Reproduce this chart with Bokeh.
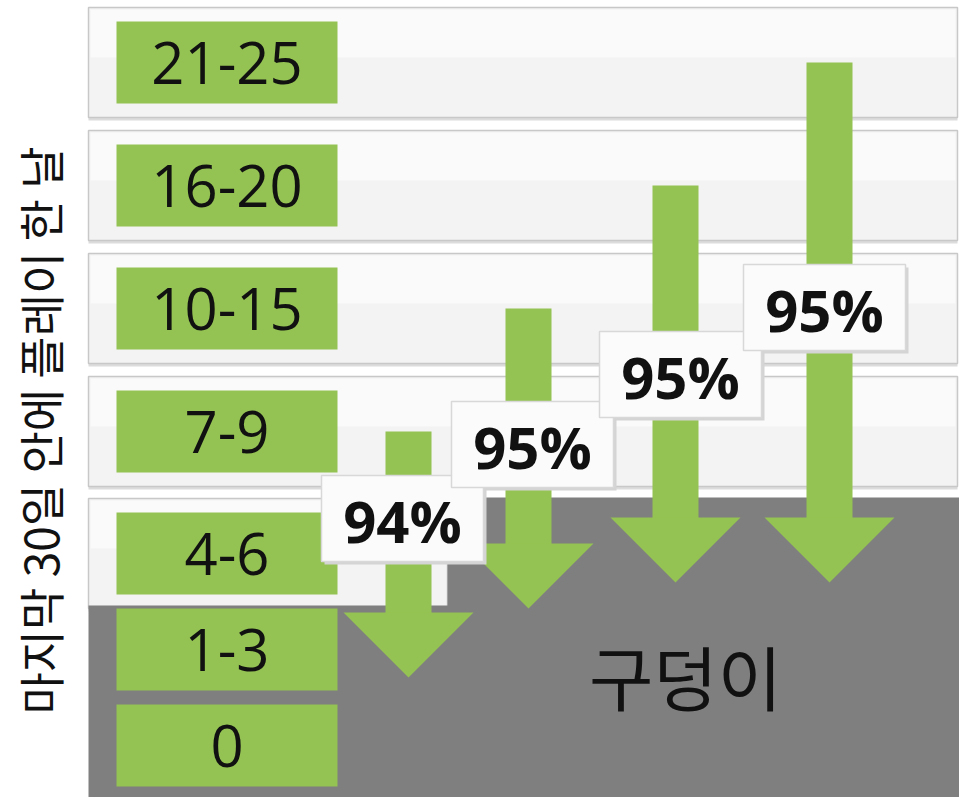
import math
from bokeh.plotting import figure
from bokeh.models import Range1d, Label, ColumnDataSource
from bokeh.core.properties import value
from bokeh.embed import file_html
from bokeh.resources import INLINE

# ---------------- data ----------------
categories = ["21-25", "16-20", "10-15", "7-9", "4-6", "1-3", "0"]
arrow_source_rows = ["7-9", "10-15", "16-20", "21-25"]
arrow_pcts = [94, 95, 95, 95]
pit_label = "구덩이"
axis_title = "마지막 30일 안에 플레이 한 날"

# ---------------- layout (pixel space) ----------------
W, H = 959, 797
row_centers = [62, 185, 308, 431, 553, 649, 745]   # y centre of each category row
n_bands = 5                                          # rows drawn as white bands
band_half = 55
band_left, band_right, band5_right = 88, 957, 447
box_left, box_right, box_half = 116, 337, 41
pit_top_right, pit_top_left = 497, 605

arrow_x = [408, 528, 675, 829]
arrow_tip = [677, 608, 582, 582]
shaft_w, head_w, head_h = 46, 130, 65
lbl_center = [(402, 518), (532, 444), (680, 374), (824, 307)]
lbl_w, lbl_h = 162, 86

GREEN = "#94c353"
PIT = "#7f7f7f"

p = figure(width=W, height=H, x_range=Range1d(0, W), y_range=Range1d(H, 0),
           output_backend="svg", toolbar_location=None, min_border=0)
p.axis.visible = False
p.grid.visible = False
p.outline_line_color = None
p.background_fill_color = "white"
p.border_fill_color = "white"

# white bands for upper rows
bt, bb, br = [], [], []
for i in range(n_bands):
    c = row_centers[i]
    bt.append(c - band_half)
    bb.append(c + band_half)
    br.append(band5_right if i == n_bands - 1 else band_right)
bl = [band_left] * n_bands
p.quad(left=bl, right=br, top=[t + 3 for t in bt], bottom=[b + 3 for b in bb],
       fill_color="#dcdcdc", line_color=None)
p.quad(left=bl, right=br, top=bt, bottom=bb,
       fill_color="#f3f3f3", line_color="#c8c8c8", line_width=1.5)
p.quad(left=[l + 2 for l in bl], right=[r - 2 for r in br], top=[t + 2 for t in bt],
       bottom=[t + 50 for t in bt], fill_color="#fafafa", line_color=None)

# the pit
p.patch(x=[band_left, band5_right, band5_right, W, W, band_left],
        y=[pit_top_left, pit_top_left, pit_top_right, pit_top_right, H, H],
        fill_color=PIT, line_color=None)

# green category boxes
src = ColumnDataSource(dict(
    left=[box_left] * len(categories), right=[box_right] * len(categories),
    top=[c - box_half for c in row_centers], bottom=[c + box_half for c in row_centers],
    x=[(box_left + box_right) / 2] * len(categories), y=row_centers, label=categories))
p.quad(left="left", right="right", top="top", bottom="bottom", source=src,
       fill_color=GREEN, line_color=None)
p.text(x="x", y="y", text="label", source=src, text_align="center",
       text_baseline="middle", text_font=value("Open Sans"), text_font_size="58px",
       text_color="#111111")

# arrows
for k, row in enumerate(arrow_source_rows):
    top = row_centers[categories.index(row)]
    cx = arrow_x[k]
    tip = arrow_tip[k]
    base = tip - head_h
    p.quad(left=cx - shaft_w / 2, right=cx + shaft_w / 2, top=top, bottom=base + 1,
           fill_color=GREEN, line_color=None)
    p.patch(x=[cx - head_w / 2, cx + head_w / 2, cx], y=[base, base, tip],
            fill_color=GREEN, line_color=None)

# percentage labels
lx = [c[0] for c in lbl_center]
ly = [c[1] for c in lbl_center]
p.rect(x=[x + 3 for x in lx], y=[y + 3 for y in ly], width=lbl_w, height=lbl_h,
       fill_color="#d4d4d4", line_color=None)
p.rect(x=lx, y=ly, width=lbl_w, height=lbl_h, fill_color="#fbfbfb",
       line_color="#d8d8d8", line_width=1.5)
p.text(x=lx, y=[y + 2 for y in ly], text=[f"{v}%" for v in arrow_pcts],
       text_align="center", text_baseline="middle", text_font=value("Open Sans"),
       text_font_style="bold", text_font_size="58px", text_color="#111111")

# pit label
p.text(x=[685], y=[675], text=[pit_label], text_align="center", text_baseline="middle",
       text_font=value("Noto Sans CJK KR"), text_font_size="70px", text_color="#111111")

# vertical title
p.add_layout(Label(x=38, y=430, text=axis_title, angle=math.pi / 2,
                   text_align="center", text_baseline="middle",
                   text_font="Noto Sans CJK KR", text_font_size="46px",
                   text_color="#111111"))

open("out.html", "w").write(file_html(p, INLINE))
